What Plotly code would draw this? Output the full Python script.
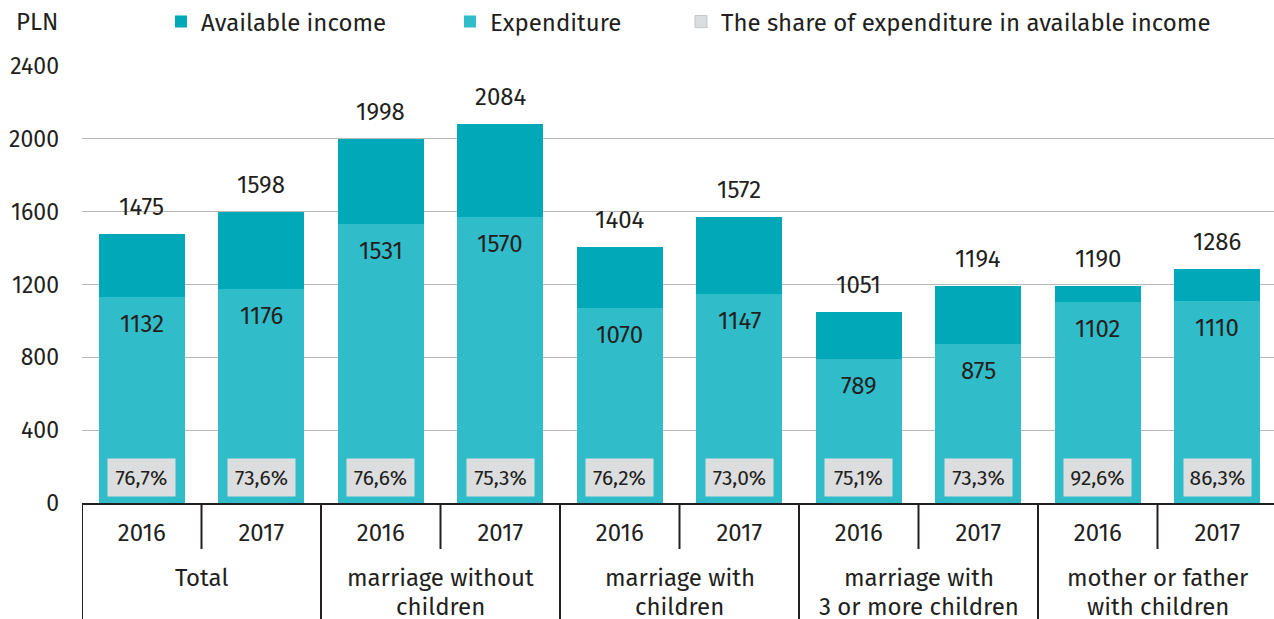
import plotly.graph_objects as go

# Household groups (two-line labels) and survey years
groups = ["Total", "marriage without<br>children", "marriage with<br>children",
          "marriage with<br>3 or more children", "mother or father<br>with children"]
years = ["2016", "2017"]

# Monthly values per capita, PLN
available_income = [1475, 1598, 1998, 2084, 1404, 1572, 1051, 1194, 1190, 1286]
expenditure = [1132, 1176, 1531, 1570, 1070, 1147, 789, 875, 1102, 1110]
share_pct = [76.7, 73.6, 76.6, 75.3, 76.2, 73.0, 75.1, 73.3, 92.6, 86.3]

y_ticks = [0, 400, 800, 1200, 1600, 2000, 2400]

C_INCOME = "#00A8B8"
C_EXP = "#31BCC9"
C_SHARE = "#DCDDDF"
C_TEXT = "#231F20"
FONT = "Fira Sans, Lato, sans-serif"
FS = 24

# plot-area geometry in pixels (used to convert pixel offsets to paper units)
PLOT_W = 1192.0
PLOT_H = 437.0
PLOT_BOTTOM = 503
SLOT_PX = 119.5

n = len(available_income)
xs = list(range(n))
year_labels = [years[i % 2] for i in xs]

fig = go.Figure()
fig.add_trace(go.Bar(x=xs, y=available_income, name="Available income",
                     marker=dict(color=C_INCOME, line=dict(width=0)),
                     width=0.72, legend="legend", hoverinfo="y"))
fig.add_trace(go.Bar(x=xs, y=expenditure, name="Expenditure",
                     marker=dict(color=C_EXP, line=dict(width=0)),
                     width=0.72, legend="legend2", hoverinfo="y"))
fig.add_trace(go.Bar(x=[None], y=[None], name="The share of expenditure in available income",
                     marker=dict(color=C_SHARE, line=dict(width=1, color="#C4C5C8")),
                     legend="legend3"))

ann = []
for i in xs:
    # total available income above the bar
    ann.append(dict(x=i, y=available_income[i], xref="x", yref="y", text=str(available_income[i]),
                    showarrow=False, yanchor="bottom", yshift=11,
                    font=dict(size=FS, color=C_TEXT, family=FONT)))
    # expenditure just under its top edge
    ann.append(dict(x=i, y=expenditure[i], xref="x", yref="y", text=str(expenditure[i]),
                    showarrow=False, yanchor="middle", yshift=-27,
                    font=dict(size=FS, color=C_TEXT, family=FONT)))
    # share box at the base of the bar
    ann.append(dict(x=i, y=0, xref="x", yref="y",
                    text=f"{share_pct[i]:.1f}%".replace(".", ","),
                    showarrow=False, yanchor="middle", yshift=26,
                    bgcolor=C_SHARE, width=63, height=33, borderpad=2,
                    font=dict(size=21, color=C_TEXT, family=FONT)))

# Group labels under the year row
for g, label in enumerate(groups):
    for k, line in enumerate(label.split("<br>")):
        ann.append(dict(x=2 * g + 0.5, y=(PLOT_BOTTOM - (578 + 29 * k)) / PLOT_H,
                        xref="x", yref="paper", text=line, showarrow=False,
                        yanchor="middle", font=dict(size=FS, color=C_TEXT, family=FONT)))

# Unit label above the value axis
ann.append(dict(x=(37 - 82) / PLOT_W, y=(PLOT_BOTTOM - 22) / PLOT_H, xref="paper", yref="paper",
                text="PLN", showarrow=False, xanchor="center", yanchor="middle",
                font=dict(size=FS, color=C_TEXT, family=FONT)))

# Divider lines of the category axis
shapes = []
full_depth = -116 / PLOT_H
year_depth = -46 / PLOT_H
for b in range(n):
    xb = b - 0.5
    depth = full_depth if b % 2 == 0 else year_depth
    shapes.append(dict(type="line", xref="x", yref="paper", x0=xb, x1=xb, y0=0, y1=depth,
                       line=dict(color=C_TEXT, width=2)))

legend_common = dict(orientation="h", yref="container", y=1 - 22 / 619, yanchor="middle",
                     xref="container", xanchor="left", bgcolor="rgba(0,0,0,0)",
                     font=dict(size=FS, color=C_TEXT, family=FONT), itemwidth=30,
                     traceorder="normal")

fig.update_layout(
    width=1274, height=619, autosize=False,
    margin=dict(l=82, r=0, t=66, b=116),
    paper_bgcolor="white", plot_bgcolor="white",
    barmode="overlay", bargap=0,
    font=dict(family=FONT, color=C_TEXT, size=FS),
    xaxis=dict(range=[-0.5, -0.5 + PLOT_W / SLOT_PX], tickvals=xs, ticktext=year_labels,
               showgrid=False, zeroline=False, showline=True, linecolor=C_TEXT, linewidth=2,
               ticks="", ticklabelstandoff=7, tickfont=dict(size=FS, color=C_TEXT, family=FONT),
               fixedrange=True),
    yaxis=dict(range=[0, 2400], tickvals=y_ticks, showgrid=True, gridcolor="#B8B8B8", gridwidth=1,
               zeroline=False, showline=False, ticks="", ticklabelstandoff=22,
               tickfont=dict(size=23, color=C_TEXT, family=FONT), fixedrange=True),
    legend=dict(legend_common, x=161 / 1274),
    legend2=dict(legend_common, x=450 / 1274),
    legend3=dict(legend_common, x=681 / 1274),
    annotations=ann, shapes=shapes,
    showlegend=True,
)

fig.write_html("out.html", config={"displayModeBar": False})
